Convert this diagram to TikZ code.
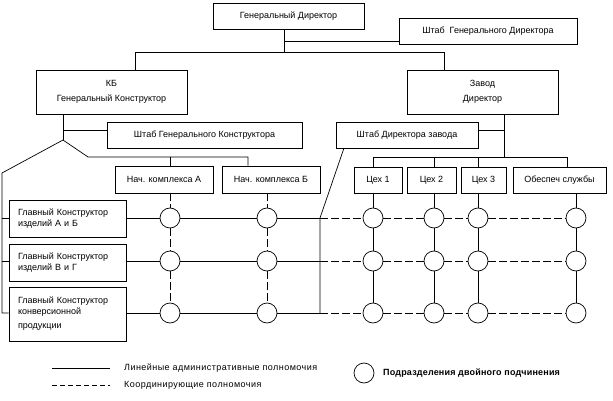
\documentclass[tikz,border=0pt]{standalone}
\usepackage{fontspec}
\setmainfont{Liberation Sans}
\begin{document}
\begin{tikzpicture}[x=1pt,y=-1pt,
  every node/.style={font=\fontsize{9}{11}\selectfont},
  box/.style={draw, line width=0.7pt, inner sep=0pt, align=center},
  lbox/.style={draw, line width=0.7pt, inner sep=0pt, align=left, minimum width=117pt, text width=99pt},
  dot/.style={draw, circle, fill=white, minimum size=20pt, inner sep=0pt, line width=0.7pt},
  ln/.style={line width=0.7pt},
  dsh/.style={line width=0.7pt, dash pattern=on 7.5pt off 3.5pt},
  ldsh/.style={line width=0.7pt, dash pattern=on 5pt off 3pt},
]
\useasboundingbox (0,0) rectangle (613,401);

% top level
\node[box, minimum width=151pt, minimum height=26pt] (gd) at (288.5,16) {Генеральный Директор};
\node[box, minimum width=178pt, minimum height=26pt] (shgd) at (488,31) {Штаб\ \ Генерального Директора};
\node[box, minimum width=151pt, minimum height=44pt, align=center] (kb) at (111.5,92) {КБ\\[4pt]Генеральный Конструктор};
\node[box, minimum width=151pt, minimum height=44pt, align=center] (zavod) at (482.5,92) {Завод\\[4pt]Директор};
\node[box, minimum width=195pt, minimum height=26pt] (shgk) at (204.5,135) {Штаб Генерального Конструктора};
\node[box, minimum width=142pt, minimum height=26pt] (shdz) at (407,135) {Штаб Директора завода};
\node[box, minimum width=98pt, minimum height=27pt] (nachA) at (164,179.5) {Нач. комплекса А};
\node[box, minimum width=98pt, minimum height=27pt] (nachB) at (271,179.5) {Нач. комплекса Б};
\node[box, minimum width=48pt, minimum height=26pt] (c1) at (378,180) {Цех 1};
\node[box, minimum width=49pt, minimum height=26pt] (c2) at (431.5,180) {Цех 2};
\node[box, minimum width=45pt, minimum height=26pt] (c3) at (483.5,180) {Цех 3};
\node[box, minimum width=93pt, minimum height=26pt] (ob) at (559.5,180) {Обеспеч службы};

\node[lbox, minimum height=37pt] (gk1) at (67.5,218.5) {Главный Конструктор\\изделий А и Б};
\node[lbox, minimum height=37pt] (gk2) at (67.5,262.5) {Главный Конструктор\\изделий В и Г};
\node[lbox, minimum height=54pt] (gk3) at (67.5,314) {Главный Конструктор\\конверсионной\\[3pt]продукции};

% helper coordinates
\coordinate (t1) at (284,52);
\coordinate (t2) at (284,41);
\coordinate (h1) at (135,52);
\coordinate (h2) at (444,52);
\coordinate (apex) at (63,140);
\coordinate (a2) at (63,130);
\coordinate (l1) at (2,173);
\coordinate (lb) at (2,313);
\coordinate (r1) at (88,157);
\coordinate (r2) at (248,157);
\coordinate (z1) at (504,157);
\coordinate (z0) at (504,130);
\coordinate (o1) at (567,157);
\coordinate (d1) at (344,148);
\coordinate (j1) at (320,218);
\coordinate (j2) at (320,261);
\coordinate (j3) at (320,313);

% top connectors
\draw[ln] (gd.south -| t1) -- (t1);
\draw[ln] (t2) -- (shgd.west |- t2);
\draw[ln] (kb.north -| h1) -- (h1) -- (h2) -- (zavod.north -| h2);
\draw[ln] (kb.south -| apex) -- (apex);
\draw[ln] (a2) -- (shgk.west |- a2);
\draw[ln] (apex) -- (l1) -- (lb) -- (gk3.west |- lb);
\draw[ln] (apex) -- (r1) -- (r2) -- (nachB.north -| r2);
\draw[ln] (zavod.south -| z1) -- (z1);
\draw[ln] (shdz.east |- z0) -- (z0);
\draw[ln] (d1) -- (j1) -- (j3);

% circles
\foreach \r/\y in {1/218,2/261,3/313}{
  \foreach \c/\x in {1/170,2/267,3/373,4/434,5/478,6/576}{
    \node[dot] (p\r\c) at (\x,\y) {};
  }
}

\draw[ln] (l1 |- p11) -- (gk1.west |- p11);
\draw[ln] (l1 |- p21) -- (gk2.west |- p21);
\draw[ln] (p11 |- r1) -- (nachA.north -| p11);
\draw[ln] (p13 |- z1) -- (o1) -- (ob.north -| o1);
\draw[ln] (p13 |- z1) -- (c1.north -| p13);
\draw[ln] (p14 |- z1) -- (c2.north -| p14);
\draw[ln] (p15 |- z1) -- (c3.north -| p15);

% rows
\draw[ln] (gk1.east |- p11) -- (p11) -- (p12) -- (j1);
\draw[dsh] (j1) -- (p13) -- (p14) -- (p15) -- (p16);
\draw[ln] (gk2.east |- p21) -- (p21) -- (p22) -- (j2);
\draw[dsh] (j2) -- (p23) -- (p24) -- (p25) -- (p26);
\draw[ln] (gk3.east |- p31) -- (p31) -- (p32) -- (j3);
\draw[dsh] (j3) -- (p33) -- (p34) -- (p35) -- (p36);

% columns
\draw[dsh] (nachA.south -| p11) -- (p11) -- (p21) -- (p31);
\draw[dsh] (nachB.south -| p12) -- (p12) -- (p22) -- (p32);
\draw[ln] (c1.south -| p13) -- (p13) -- (p23) -- (p33);
\draw[ln] (c2.south -| p14) -- (p14) -- (p24) -- (p34);
\draw[ln] (c3.south -| p15) -- (p15) -- (p25) -- (p35);
\draw[ln] (ob.south -| p16) -- (p16) -- (p26) -- (p36);

% legend
\coordinate (ls1) at (52,368);
\coordinate (ls2) at (110,368);
\coordinate (ld1) at (52,385);
\coordinate (ld2) at (110,385);
\draw[ln] (ls1) -- (ls2);
\draw[ldsh] (ld1) -- (ld2);
\node[anchor=west, inner sep=0pt, font=\fontsize{9}{11}\selectfont\addfontfeature{LetterSpace=5}] (lt1) at (124,368) {Линейные административные полномочия};
\node[anchor=west, inner sep=0pt, font=\fontsize{9}{11}\selectfont\addfontfeature{LetterSpace=5}] (lt2) at (124,385) {Координирующие полномочия};
\node[dot] (lc) at (364,373) {};
\node[anchor=west, inner sep=0pt, font=\fontsize{9}{11}\selectfont\bfseries\addfontfeature{LetterSpace=2}] (lt3) at (383,373) {Подразделения двойного подчинения};
\end{tikzpicture}
\end{document}
